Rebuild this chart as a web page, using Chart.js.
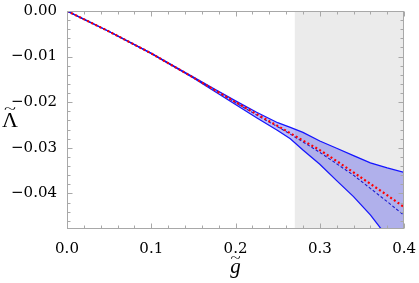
<!DOCTYPE html>
<html>
<head>
<meta charset="utf-8">
<script src="https://cdn.jsdelivr.net/npm/chart.js@4.4.0/dist/chart.umd.min.js"></script>
<style>
html, body { margin: 0; padding: 0; background: #fff; }
#wrap { width: 419px; height: 283px; }
</style>
</head>
<body>
<div id="wrap"><canvas id="chart" width="419" height="283"></canvas></div>
<script>
// values
const gValues     = [0, 0.05, 0.1, 0.15, 0.175, 0.2, 0.225, 0.25, 0.265, 0.28, 0.3, 0.32, 0.34, 0.36, 0.38, 0.4];
const upperBand   = [0, -0.0045, -0.0093, -0.0145, -0.0171, -0.0197, -0.0222, -0.0245, -0.0255, -0.0266, -0.0285, -0.0301, -0.0317, -0.0333, -0.0344, -0.0354];
const lowerBand   = [0, -0.0045, -0.0093, -0.0147, -0.0176, -0.0205, -0.0234, -0.0262, -0.0280, -0.0305, -0.0336, -0.0372, -0.0407, -0.0447, -0.0495, -0.0540];
const centerCurve = [0, -0.0045, -0.0093, -0.0146, -0.0173, -0.0201, -0.0228, -0.0254, -0.0270, -0.0287, -0.0310, -0.0335, -0.0360, -0.0389, -0.0418, -0.0448];
const redCurve    = [0, -0.0045, -0.0093, -0.0146, -0.0173, -0.0200, -0.0226, -0.0252, -0.0268, -0.0284, -0.0305, -0.0329, -0.0354, -0.0379, -0.0404, -0.0430];
const shadeRange  = [0.27, 0.4];

const xTicks = [0, 0.1, 0.2, 0.3, 0.4];
const xTickLabels = ['0.0', '0.1', '0.2', '0.3', '0.4'];
const yTicks = [0, -0.01, -0.02, -0.03, -0.04];
const yTickLabels = ['0.00', '\u22120.01', '\u22120.02', '\u22120.03', '\u22120.04'];
const xLabel = 'g';
const yLabel = '\u039B';
const tilde = '~';

const serif = '"Liberation Serif", "DejaVu Serif", serif';
const tickSerif = '"DejaVu Serif", serif';

function pts(ys) {
    return gValues.map((g, i) => ({ x: g, y: ys[i] }));
}

// base letter with a wide tilde above it
function tilded(ctx, text, cx, cy, font, dy, sx) {
    ctx.font = font;
    ctx.fillText(text, cx, cy);
    ctx.save();
    ctx.translate(cx, cy + dy);
    ctx.scale(sx, 0.75);
    ctx.font = '17px ' + serif;
    ctx.fillText(tilde, 0, 0);
    ctx.restore();
}

// frame with inward ticks on all four sides, plus axis labels
const framePlugin = {
    id: 'frame',
    afterDatasetsDraw(chart) {
        const { ctx, chartArea: a, scales: { x, y } } = chart;
        const L = Math.round(a.left) + 0.5, R = Math.round(a.right) - 0.5;
        const T = Math.round(a.top) + 0.5, B = Math.round(a.bottom) - 0.5;
        ctx.save();
        ctx.strokeStyle = '#a8a8a8';
        ctx.lineWidth = 1;
        ctx.strokeRect(L, T, R - L, B - T);
        ctx.beginPath();
        for (let i = 0; i <= 20; i++) {
            const px = Math.round(x.getPixelForValue(i * 0.02)) + 0.5;
            const len = i % 5 === 0 ? 5 : 3;
            ctx.moveTo(px, B); ctx.lineTo(px, B - len);
            ctx.moveTo(px, T); ctx.lineTo(px, T + len);
        }
        for (let i = 0; i <= 23; i++) {
            const v = -i * 0.002;
            if (v < y.min) break;
            const py = Math.round(y.getPixelForValue(v)) + 0.5;
            const len = i % 5 === 0 ? 5 : 3;
            ctx.moveTo(L, py); ctx.lineTo(L + len, py);
            ctx.moveTo(R, py); ctx.lineTo(R - len, py);
        }
        ctx.stroke();

        ctx.fillStyle = '#000';
        ctx.textAlign = 'center';
        ctx.textBaseline = 'alphabetic';
        tilded(ctx, yLabel, 10, 127, '22px ' + serif, -14, 1.3);
        tilded(ctx, xLabel, (a.left + a.right) / 2, 273, 'italic 21px ' + serif, -11, 1.1);
        ctx.restore();
    }
};

const tickFont = { family: tickSerif, size: 15 };

new Chart(document.getElementById('chart'), {
    type: 'line',
    data: {
        datasets: [
            {
                data: shadeRange.map(g => ({ x: g, y: 0 })),
                borderWidth: 0, backgroundColor: '#ebebeb', fill: 'start', pointRadius: 0, order: 10
            },
            {
                data: pts(upperBand),
                borderColor: '#1414ff', borderWidth: 1.3, pointRadius: 0,
                fill: '+1', backgroundColor: 'rgba(40,40,235,0.3)', order: 5
            },
            {
                data: pts(lowerBand),
                borderColor: '#1414ff', borderWidth: 1.3, pointRadius: 0, fill: false, order: 5
            },
            {
                data: pts(centerCurve),
                borderColor: '#1a1ad0', borderWidth: 1.1, borderDash: [3, 2], pointRadius: 0, fill: false, order: 2
            },
            {
                data: pts(redCurve),
                borderColor: '#ff0000', borderWidth: 2.2, borderDash: [2, 2.5], pointRadius: 0, fill: false, order: 1
            }
        ]
    },
    options: {
        responsive: false,
        animation: false,
        layout: { padding: { top: 9, right: 12, left: 0, bottom: 0 } },
        plugins: { legend: { display: false }, tooltip: { enabled: false } },
        scales: {
            x: {
                type: 'linear', min: 0, max: 0.4,
                afterBuildTicks: s => { s.ticks = xTicks.map(v => ({ value: v })); },
                afterFit: s => { s.height = 54; },
                ticks: { callback: (v, i) => xTickLabels[i], font: tickFont, color: '#000', padding: 3, maxRotation: 0, autoSkip: false },
                grid: { display: false },
                border: { display: false }
            },
            y: {
                type: 'linear', min: -0.0478, max: 0,
                afterBuildTicks: s => { s.ticks = yTicks.map(v => ({ value: v })); },
                afterFit: s => { s.width = 67; },
                ticks: { callback: (v, i) => yTickLabels[i], font: tickFont, color: '#000', padding: 2, autoSkip: false },
                grid: { display: false },
                border: { display: false }
            }
        }
    },
    plugins: [framePlugin]
});
</script>
</body>
</html>
